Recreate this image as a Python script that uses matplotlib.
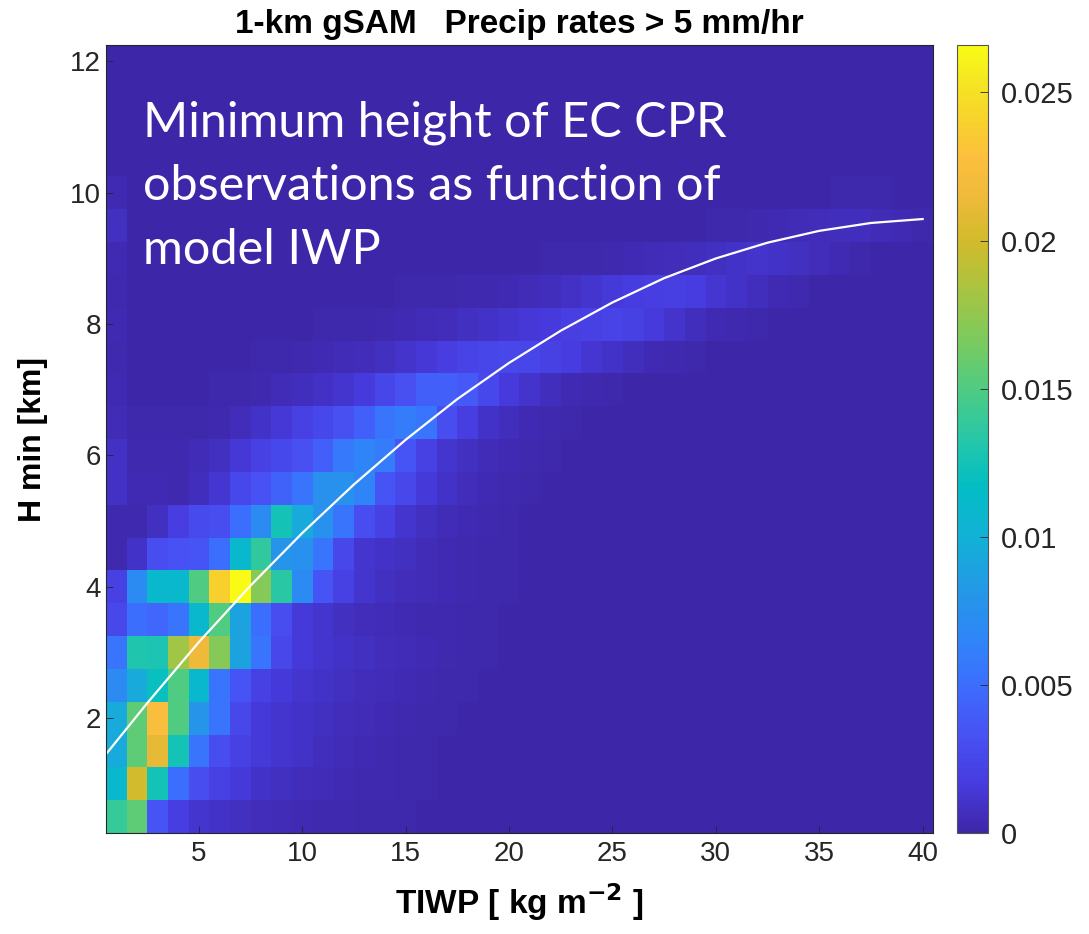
import numpy as np
import matplotlib
matplotlib.use("Agg")
import matplotlib.pyplot as plt
from matplotlib.colors import LinearSegmentedColormap

# bin centres
tiwp = list(range(1, 41))                      # kg m-2
h_min = [0.5 * k for k in range(1, 25)]        # km

# normalised frequency, units of 1e-4, one row per H min bin (bottom -> top)
r00_5 = [140, 155, 35, 18, 12, 10, 8, 6, 5, 4, 3, 3, 2, 2, 2, 1] + [0] * 24
r01_0 = [110, 200, 125, 50, 30, 20, 15, 10, 8, 6, 5, 4, 3, 3, 2, 2, 1] + [0] * 23
r01_5 = [95, 155, 210, 125, 55, 30, 20, 15, 12, 10, 7, 5, 4, 3, 2, 2, 1] + [0] * 23
r02_0 = [95, 155, 225, 150, 80, 55, 25, 15, 12, 10, 8, 6, 5, 4, 3, 2, 2, 1] + [0] * 22
r02_5 = [70, 95, 120, 150, 110, 55, 35, 20, 15, 12, 10, 8, 6, 5, 4, 3, 2, 2, 1] + [0] * 21
r03_0 = [55, 130, 128, 180, 215, 170, 90, 55, 25, 15, 12, 10, 8, 6, 5, 4, 3, 2, 2, 1] + [0] * 20
r03_5 = [25, 50, 45, 55, 110, 150, 90, 50, 30, 15, 12, 8, 6, 5, 4, 3, 3, 2, 2, 1] + [0] * 20
r04_0 = [20, 70, 110, 110, 150, 240, 266, 170, 135, 70, 35, 20, 12, 8, 6, 5, 4, 3, 2, 2, 1] + [0] * 19
r04_5 = [3, 10, 30, 33, 35, 50, 110, 138, 80, 75, 55, 25, 12, 10, 8, 5, 4, 3, 2, 2, 1] + [0] * 19
r05_0 = [3, 3, 8, 18, 28, 30, 50, 70, 125, 95, 75, 55, 30, 20, 12, 8, 5, 4, 3, 2, 1] + [0] * 19
r05_5 = [9, 4, 4, 3, 7, 13, 26, 33, 43, 55, 75, 75, 65, 35, 25, 15, 10, 6, 4, 3, 2, 1] + [0] * 18
r06_0 = [9, 3, 3, 3, 5, 8, 14, 20, 26, 32, 42, 58, 65, 60, 35, 20, 12, 8, 5, 4, 3, 2, 1] + [0] * 17
r06_5 = [5, 2, 2, 2, 2, 3, 6, 10, 14, 20, 26, 32, 42, 55, 60, 55, 30, 18, 10, 7, 4, 3, 2, 1] + [0] * 16
r07_0 = [4, 1, 1, 1, 1, 2, 2, 3, 5, 7, 9, 12, 16, 24, 32, 42, 42, 38, 26, 16, 11, 7, 4, 3, 2, 1] + [0] * 14
r07_5 = [3, 1, 1, 1, 1, 1, 1, 2, 2, 3, 4, 5, 6, 8, 11, 14, 18, 22, 24, 25, 24, 21, 17, 13, 10, 7, 4, 3, 2, 1] + [0] * 10
r08_0 = [4, 1, 1, 1, 1, 1, 1, 1, 1, 1, 2, 2, 2, 3, 4, 5, 6, 8, 10, 12, 14, 16, 19, 21, 22, 20, 16, 11, 7, 4, 3, 2, 1] + [0] * 7
r08_5 = [3, 1, 1, 1, 1, 1, 1, 1, 1, 1, 1, 1, 1, 1, 2, 2, 2, 3, 3, 4, 5, 7, 9, 12, 15, 17, 18, 19, 17, 13, 10, 7, 4, 3, 1] + [0] * 5
r09_0 = [4, 1, 1, 1, 1, 1, 1, 1, 1, 1, 1, 1, 1, 1, 1, 1, 1, 1, 1, 1, 1, 2, 2, 2, 3, 4, 5, 6, 7, 8, 10, 11, 10, 8, 6, 4, 2, 1, 0, 0]
r09_5 = [8, 1, 1, 1, 1, 1, 1, 1, 1, 1, 1, 1, 1, 1, 1, 1, 1, 1, 1, 1, 1, 1, 1, 1, 1, 1, 1, 1, 1, 2, 2, 3, 4, 5, 6, 7, 7, 5, 4, 2]
r10_0 = [4] + [0] * 34 + [2, 2, 2, 1, 1]
r10_5 = [1] + [0] * 39
r11_0 = [1] + [0] * 39
r11_5 = [1] + [0] * 39
r12_0 = [1] + [0] * 39

# white fit line
fit_x = [0.5, 2.5, 5, 7.5, 10, 12.5, 15, 17.5, 20, 22.5, 25, 27.5, 30, 32.5, 35, 37.5, 40]
fit_y = [1.45, 2.23, 3.16, 4.02, 4.82, 5.56, 6.24, 6.86, 7.41, 7.90, 8.33, 8.70, 9.00, 9.24, 9.42, 9.54, 9.60]

density = np.array([r00_5, r01_0, r01_5, r02_0, r02_5, r03_0, r03_5, r04_0, r04_5, r05_0,
                    r05_5, r06_0, r06_5, r07_0, r07_5, r08_0, r08_5, r09_0, r09_5, r10_0,
                    r10_5, r11_0, r11_5, r12_0], dtype=float) * 1e-4

# approximation of matlab parula
parula_pts = [
    (0.000, (0.2422, 0.1504, 0.6603)),
    (0.060, (0.2770, 0.2300, 0.8700)),
    (0.125, (0.2810, 0.3228, 0.9579)),
    (0.190, (0.2350, 0.4350, 0.9950)),
    (0.250, (0.1786, 0.5289, 0.9682)),
    (0.310, (0.1400, 0.6000, 0.9000)),
    (0.375, (0.0689, 0.6948, 0.8394)),
    (0.440, (0.0100, 0.7400, 0.7700)),
    (0.500, (0.1500, 0.7800, 0.6600)),
    (0.560, (0.3000, 0.7950, 0.5200)),
    (0.625, (0.4800, 0.7950, 0.3700)),
    (0.700, (0.6900, 0.7650, 0.2400)),
    (0.750, (0.8185, 0.7327, 0.1722)),
    (0.810, (0.9400, 0.7300, 0.2300)),
    (0.860, (0.9900, 0.7500, 0.2400)),
    (0.910, (0.9700, 0.8300, 0.1700)),
    (0.960, (0.9600, 0.9100, 0.1300)),
    (1.000, (0.9769, 0.9839, 0.0805)),
]
parula = LinearSegmentedColormap.from_list("parula", parula_pts)

plt.rcParams['font.family'] = ['Liberation Sans', 'DejaVu Sans']

fig = plt.figure(figsize=(10.89, 9.34), dpi=100)
ax = fig.add_axes([0.0973, 0.1081, 0.7594, 0.8437])
cax = fig.add_axes([0.8788, 0.1081, 0.0285, 0.8437])

x_edges = np.append(np.array(tiwp) - 0.5, tiwp[-1] + 0.5)
y_edges = np.append(np.array(h_min) - 0.25, h_min[-1] + 0.25)
mesh = ax.pcolormesh(x_edges, y_edges, density, cmap=parula, vmin=0, vmax=0.0266)
ax.plot(fit_x, fit_y, color="white", lw=1.6)

ax.set_xlim(0.5, 40.5)
ax.set_ylim(0.25, 12.25)
ax.set_xticks([5, 10, 15, 20, 25, 30, 35, 40])
ax.set_yticks([2, 4, 6, 8, 10, 12])
ax.tick_params(direction="in", labelsize=20, colors="#262626", length=5, width=0.6)
ax.tick_params(axis="x", pad=6)
for s in ax.spines.values():
    s.set_color("#262626")
    s.set_linewidth(0.8)

ax.set_title("1-km gSAM   Precip rates > 5 mm/hr", fontsize=24, fontweight="bold", pad=9)
ax.set_xlabel("TIWP [ kg m$^{\\mathbf{-2}}$ ]", fontsize=24, fontweight="bold", labelpad=10)
ax.set_ylabel("H min [km]", fontsize=23, fontweight="bold", labelpad=16)

ax.text(0.045, 0.93, "Minimum height of EC CPR\nobservations as function of\nmodel IWP",
        transform=ax.transAxes, color="white", fontsize=35, family="Lato",
        va="top", ha="left", linespacing=1.55)

cb = fig.colorbar(mesh, cax=cax)
cb.set_ticks([0, 0.005, 0.01, 0.015, 0.02, 0.025])
cb.set_ticklabels(["0", "0.005", "0.01", "0.015", "0.02", "0.025"])
cb.ax.tick_params(direction="in", labelsize=21, colors="#262626", length=6, width=0.6, pad=9)
cb.outline.set_edgecolor("#555555")
cb.outline.set_linewidth(0.8)

fig.savefig("out.png", dpi=100)
